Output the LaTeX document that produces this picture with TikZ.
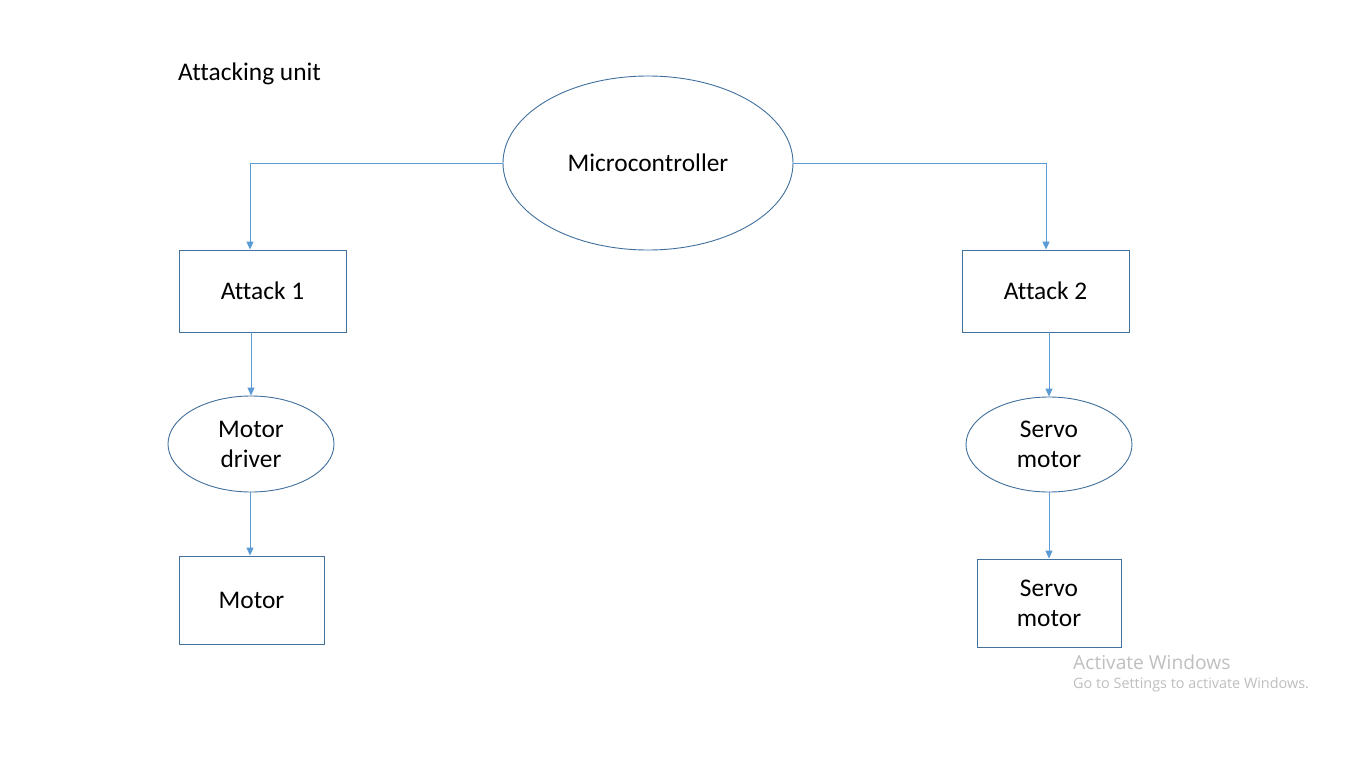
\documentclass[tikz,border=0pt]{standalone}
\usepackage{fontspec}
\setmainfont[Ligatures=NoCommon]{Carlito}
\newfontfamily\winfont{Open Sans}
\usetikzlibrary{shapes.geometric,arrows.meta}
\definecolor{nodeborder}{HTML}{41719C}
\definecolor{linkblue}{HTML}{5B9BD5}
\definecolor{wingray}{HTML}{BFBFBF}
\tikzset{
  boxnode/.style={draw=nodeborder, line width=0.9pt, rectangle, inner sep=0pt, align=center,
    font=\fontsize{25.4pt}{30pt}\selectfont},
  ellnode/.style={draw=nodeborder, line width=0.9pt, ellipse, inner sep=0pt, align=center,
    font=\fontsize{25.4pt}{30pt}\selectfont},
  link/.style={draw=linkblue, line width=1pt, -{Triangle[width=7pt,length=8pt]}}
}
\begin{document}
\begin{tikzpicture}[x=1pt,y=-1pt]
\useasboundingbox[fill=white] (0,0) rectangle (1366,768);
\node[anchor=west, inner sep=0pt, font=\fontsize{25.4pt}{30pt}\selectfont] (title) at (178,74) {Attacking unit};
\node[ellnode, minimum width=290pt, minimum height=174pt] (mc) at (648,163) {\raisebox{-1pt}{Microcontroller}};
\node[boxnode, minimum width=167pt, minimum height=82pt] (a1) at (262.5,291) {\raisebox{-1pt}{Attack 1}};
\node[boxnode, minimum width=167pt, minimum height=82pt] (a2) at (1045.5,291) {\raisebox{-1pt}{Attack 2}};
\node[ellnode, minimum width=166pt, minimum height=96pt] (md) at (251,444) {Motor\\driver};
\node[ellnode, minimum width=166pt, minimum height=95pt] (se) at (1049,444.5) {Servo\\motor};
\node[boxnode, minimum width=145pt, minimum height=88pt] (mo) at (251.5,600) {\raisebox{-1pt}{Motor}};
\node[boxnode, minimum width=144pt, minimum height=88pt] (sm) at (1049,603) {Servo\\motor};
\draw[link] (mc.west) -| (a1.north -| 250,0);
\draw[link] (mc.east) -| (a2.north -| 1046,0);
\draw[link] (a1.south -| 251,0) -- (md.north -| 251,0);
\draw[link] (a2.south -| 1049,0) -- (se.north);
\draw[link] (md.south -| 250,0) -- (mo.north -| 250,0);
\draw[link] (se.south) -- (sm.north);
\node[anchor=west, inner sep=0pt, text=wingray, font=\winfont\fontsize{19.2pt}{22pt}\selectfont] (aw) at (1073,662) {Activate Windows};
\node[anchor=west, inner sep=0pt, text=wingray, font=\winfont\fontsize{14.4pt}{17pt}\selectfont] (gs) at (1073,685) {Go to Settings to activate Windows.};
\end{tikzpicture}
\end{document}
